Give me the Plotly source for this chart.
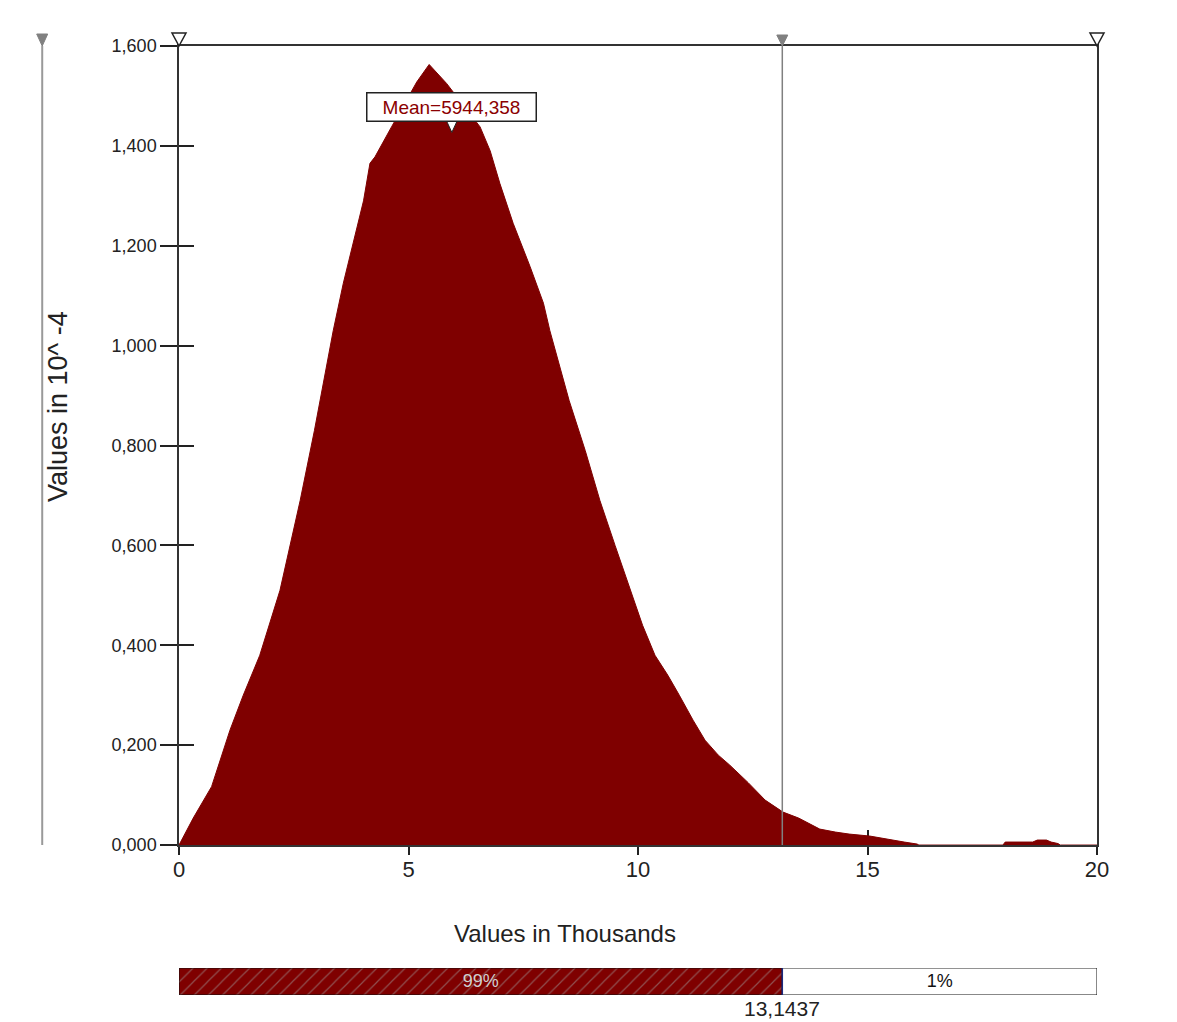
import plotly.graph_objects as go

# Density curve (x in thousands, y in 10^-4)
x_vals = [0.0, 0.31, 0.71, 1.11, 1.4, 1.76, 2.2, 2.64, 2.95, 3.36, 3.58, 3.83, 4.02, 4.16, 4.27, 4.63,
          5.18, 5.45, 5.83, 6.56, 6.78, 6.99, 7.28, 7.65, 7.94, 8.08, 8.5, 8.85, 9.17, 9.5, 9.83, 10.1,
          10.37, 10.65, 10.9, 11.2, 11.46, 11.75, 12.0, 12.4, 12.77, 13.16, 13.5, 13.96, 14.3, 14.6,
          15.05, 15.5, 15.8, 16.08, 16.12, 17.95, 18.0, 18.6, 18.7, 18.9, 19.0, 19.15, 19.2, 20.0]
y_vals = [0.0, 0.054, 0.117, 0.23, 0.30, 0.38, 0.51, 0.69, 0.83, 1.03, 1.125, 1.218, 1.29, 1.365, 1.378, 1.438,
          1.528, 1.563, 1.525, 1.438, 1.39, 1.325, 1.245, 1.158, 1.085, 1.03, 0.89, 0.79, 0.69, 0.60, 0.51, 0.44,
          0.38, 0.34, 0.30, 0.25, 0.21, 0.18, 0.16, 0.125, 0.09, 0.066, 0.054, 0.032, 0.026, 0.022,
          0.018, 0.010, 0.006, 0.002, 0.0, 0.0, 0.006, 0.006, 0.010, 0.010, 0.006, 0.003, 0.0, 0.0]

mean_value = 5.944358
mean_label = "Mean=5944,358"
cutoff = 13.1437
cutoff_label = "13,1437"
x_min, x_max = 0, 20
y_min, y_max = 0.0, 1.6
left_pct_label = "99%"
right_pct_label = "1%"
x_title = "Values in Thousands"
y_title = "Values in 10^ -4"

y_ticks = [0.0, 0.2, 0.4, 0.6, 0.8, 1.0, 1.2, 1.4, 1.6]
x_ticks = [0, 5, 10, 15, 20]

MAROON = "#7F0000"
FONT = "Liberation Sans, Arial, sans-serif"
mean_label_y = 1.477


def to_paper_x(v):
    return (v - x_min) / (x_max - x_min)


fig = go.Figure()

fig.add_trace(go.Scatter(x=x_vals, y=y_vals, mode="lines", fill="tozeroy",
                         line=dict(color=MAROON, width=1), fillcolor=MAROON,
                         hoverinfo="skip", showlegend=False))

# cutoff vertical line
fig.add_trace(go.Scatter(x=[cutoff, cutoff], y=[y_min, y_max], mode="lines",
                         line=dict(color="#808080", width=1.5), showlegend=False, hoverinfo="skip"))

# bottom percentage bar
fig.add_trace(go.Bar(x=[cutoff - x_min], y=[0], base=[x_min], orientation="h", xaxis="x2", yaxis="y2",
                     width=1, marker=dict(color=MAROON, line=dict(color="#111", width=1),
                                          pattern=dict(shape="/", fgcolor="#a0a0a0", bgcolor=MAROON,
                                                       size=10, solidity=0.12)),
                     text=[left_pct_label], textposition="inside", insidetextanchor="middle",
                     textfont=dict(family=FONT, size=18, color="#d0d0d0"),
                     showlegend=False, hoverinfo="skip"))
fig.add_trace(go.Bar(x=[x_max - cutoff], y=[0], base=[cutoff], orientation="h", xaxis="x2", yaxis="y2",
                     width=1, marker=dict(color="white", line=dict(color="#111", width=1)),
                     text=[right_pct_label], textposition="inside", insidetextanchor="middle",
                     textfont=dict(family=FONT, size=18, color="#111"),
                     showlegend=False, hoverinfo="skip"))
fig.add_shape(type="line", xref="x2", yref="y2", x0=cutoff, x1=cutoff, y0=-0.5, y1=0.5,
              line=dict(color="#1a2a80", width=1.5))
fig.add_annotation(x=cutoff, y=0, xref="x2", yref="paper", text=cutoff_label, showarrow=False,
                   yanchor="top", yshift=0, font=dict(family=FONT, size=21, color="#222"))

# invisible trace for inner-tick overlay axes
fig.add_trace(go.Scatter(x=[x_min], y=[y_min], xaxis="x3", yaxis="y3", mode="markers",
                         marker=dict(opacity=0), showlegend=False, hoverinfo="skip"))


# slider triangles (pixel-sized shapes, anchored in paper coords so they are not clipped)
def tri(xanchor, yanchor, w, h, fill, line, lw=1.5):
    fig.add_shape(type="path", xref="paper", yref="paper", xsizemode="pixel", ysizemode="pixel",
                  xanchor=xanchor, yanchor=yanchor,
                  path=f"M {-w/2} {h} L {w/2} {h} L 0 0 Z",
                  fillcolor=fill, line=dict(color=line, width=lw), layer="above")


tri(to_paper_x(x_min), 1, 14, 13, "white", "#222")
tri(to_paper_x(x_max), 1, 14, 13, "white", "#222")
tri(to_paper_x(cutoff), 1, 11, 11, "#808080", "#808080", 1)

# left slider line
fig.add_shape(type="line", xref="paper", yref="y", x0=-0.149, x1=-0.149, y0=y_min, y1=y_max,
              line=dict(color="#999999", width=2))
tri(-0.149, 1, 11, 12, "#808080", "#808080", 1)

# mean label and marker
fig.add_annotation(x=mean_value, y=mean_label_y, xref="x", yref="y", text=mean_label, showarrow=False,
                   font=dict(family=FONT, size=19, color="#8B0000"), bgcolor="white",
                   bordercolor="#222", borderwidth=1.5, borderpad=1, width=166, height=25)
fig.add_shape(type="path", xref="x", yref="y", xsizemode="pixel", ysizemode="pixel",
              xanchor=mean_value, yanchor=mean_label_y,
              path="M -6 -12 L 6 -12 L 0 -25 Z",
              fillcolor="white", line=dict(color="#222", width=1), layer="above")

main_dom = [0.158, 1.0]

# axis titles as annotations
fig.add_annotation(x=0.4205, y=main_dom[0], xref="paper", yref="paper", text=x_title, showarrow=False,
                   xanchor="center", yanchor="middle", yshift=-88,
                   font=dict(family=FONT, size=24, color="#222"))
fig.add_annotation(x=-0.1318, y=0.6196, xref="paper", yref="paper", text=y_title, showarrow=False,
                   xanchor="center", yanchor="middle", textangle=-90,
                   font=dict(family=FONT, size=27, color="#222"))

fig.update_layout(
    width=1169, height=1014,
    margin=dict(l=171, r=80, t=38, b=27),
    paper_bgcolor="white", plot_bgcolor="white",
    separators=", ",
    font=dict(family=FONT, color="#222"),
    barmode="overlay",
    xaxis=dict(range=[x_min, x_max], tickvals=x_ticks, ticktext=[str(v) for v in x_ticks],
               ticks="outside", ticklen=8, tickwidth=1.5, tickcolor="#222", ticklabelstandoff=-4,
               showline=True, linecolor="#333", linewidth=1.5, mirror=True,
               showgrid=False, zeroline=False, tickfont=dict(size=22), anchor="y"),
    yaxis=dict(range=[y_min, y_max], domain=main_dom, tickvals=y_ticks, tickformat=".3f",
               ticks="outside", ticklen=17, tickwidth=1.5, tickcolor="#222",
               showline=True, linecolor="#333", linewidth=1.5, mirror=True,
               showgrid=False, zeroline=False, tickfont=dict(size=18)),
    xaxis3=dict(range=[x_min, x_max], tickvals=x_ticks, ticks="inside", ticklen=15, tickwidth=1.5,
                tickcolor="#222", showticklabels=False, showline=False, showgrid=False,
                zeroline=False, overlaying="x", anchor="y3", layer="below traces"),
    yaxis3=dict(range=[y_min, y_max], domain=main_dom, tickvals=y_ticks, ticks="inside", ticklen=15,
                tickwidth=1.5, tickcolor="#222", showticklabels=False, showline=False,
                showgrid=False, zeroline=False, overlaying="y", anchor="x3", layer="below traces"),
    xaxis2=dict(range=[x_min, x_max], domain=[0, 1], anchor="y2", showticklabels=False,
                showgrid=False, zeroline=False, showline=False, ticks=""),
    yaxis2=dict(range=[-0.5, 0.5], domain=[0, 0.0285], anchor="x2", showticklabels=False,
                showgrid=False, zeroline=False, showline=False, ticks=""),
)

fig.write_html("out.html")
